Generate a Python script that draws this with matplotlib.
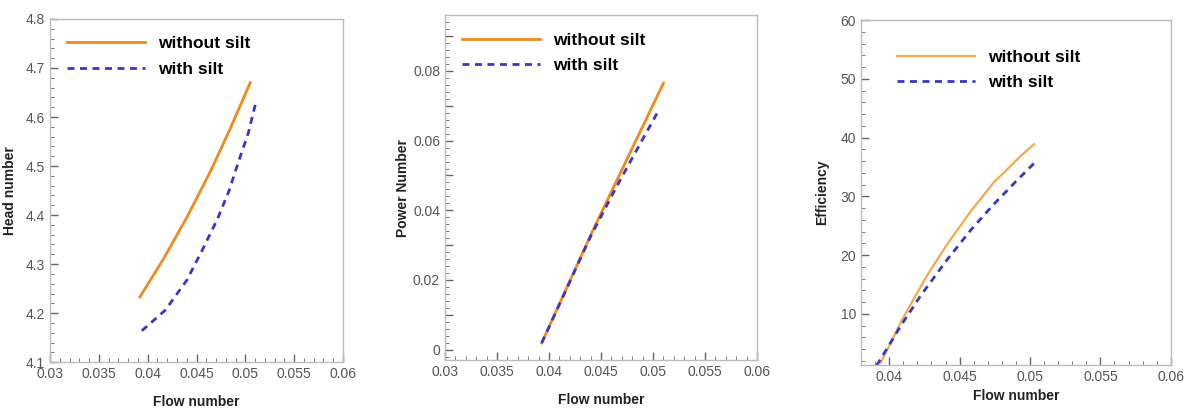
import matplotlib
matplotlib.use('Agg')
import matplotlib.pyplot as plt
from matplotlib.ticker import MultipleLocator, FuncFormatter

plt.rcParams['font.family'] = ['Liberation Sans', 'DejaVu Sans']

# --- data ---
# head number
head_x_dry = [0.0392, 0.0416, 0.0440, 0.0464, 0.0484, 0.0505]
head_y_dry = [4.233, 4.310, 4.395, 4.488, 4.574, 4.670]
head_x_silt = [0.0394, 0.0418, 0.0440, 0.0455, 0.0471, 0.0483, 0.0493, 0.0503, 0.0511]
head_y_silt = [4.164, 4.206, 4.267, 4.325, 4.390, 4.448, 4.509, 4.567, 4.632]

# power number
power_x_dry = [0.0393, 0.0441, 0.0510]
power_y_dry = [0.0019, 0.0335, 0.0765]
power_x_silt = [0.0393, 0.0440, 0.0465, 0.0488, 0.0504]
power_y_silt = [0.0019, 0.0325, 0.0468, 0.0593, 0.0679]

# efficiency
eff_x_dry = [0.0394, 0.0410, 0.0427, 0.0441, 0.0458, 0.0474, 0.0493, 0.0503]
eff_y_dry = [1.7, 9.4, 16.6, 21.8, 27.5, 32.3, 36.8, 38.9]
eff_x_silt = [0.0391, 0.0408, 0.0422, 0.0441, 0.0458, 0.0474, 0.0491, 0.0504]
eff_y_silt = [1.2, 7.9, 13.0, 19.2, 24.3, 28.6, 32.8, 35.9]

orange = '#F08A1C'
orange_light = '#F2A94E'
blue = '#3B36C8'
tick_col = '#555555'
spine_col = '#BBBBBB'

fig = plt.figure(figsize=(11.91, 4.12), dpi=100)

def style(ax):
    for s in ax.spines.values():
        s.set_color(spine_col)
        s.set_linewidth(1.0)
    ax.tick_params(which='both', direction='in', colors='#666666', labelcolor=tick_col,
                   labelsize=10, top=False, right=False)
    ax.tick_params(which='major', length=6, width=1.0)
    ax.tick_params(which='minor', length=3, width=0.6)
    ax.set_xlabel('Flow number', fontsize=10, fontweight='bold', color='#222222', labelpad=10)

def legend(ax, anchor):
    ax.legend(loc='upper left', bbox_to_anchor=anchor, frameon=False,
              handlelength=4.5, handletextpad=0.75, labelspacing=0.6,
              borderaxespad=0.0, prop={'weight': 'bold', 'size': 12.5})

# panel 1
ax1 = fig.add_axes([0.042, 0.121, 0.246, 0.833])
ax1.plot(head_x_dry, head_y_dry, color=orange, lw=2, label='without silt')
ax1.plot(head_x_silt, head_y_silt, color=blue, lw=2, ls=(0, (2.5, 2.0)), label='with silt')
ax1.set_xlim(0.03, 0.06)
ax1.set_ylim(4.1, 4.8)
ax1.xaxis.set_major_locator(MultipleLocator(0.005))
ax1.xaxis.set_minor_locator(MultipleLocator(0.001))
ax1.yaxis.set_major_locator(MultipleLocator(0.1))
ax1.yaxis.set_minor_locator(MultipleLocator(0.02))
ax1.xaxis.set_major_formatter(FuncFormatter(lambda v, p: f'{v:g}'))
ax1.yaxis.set_major_formatter(FuncFormatter(lambda v, p: f'{v:.1f}'))
style(ax1)
ax1.set_ylabel('Head number', fontsize=10, fontweight='bold', color='#222222', labelpad=6)
legend(ax1, (0.035, 0.97))

# panel 2
ax2 = fig.add_axes([0.3736, 0.126, 0.262, 0.837])
ax2.plot(power_x_dry, power_y_dry, color=orange, lw=2, label='without silt')
ax2.plot(power_x_silt, power_y_silt, color=blue, lw=2, ls=(0, (2.5, 2.0)), label='with silt')
ax2.set_xlim(0.03, 0.06)
ax2.set_ylim(-0.003, 0.096)
ax2.xaxis.set_major_locator(MultipleLocator(0.005))
ax2.xaxis.set_minor_locator(MultipleLocator(0.001))
ax2.yaxis.set_major_locator(MultipleLocator(0.01))
ax2.yaxis.set_minor_locator(MultipleLocator(0.002))
ax2.xaxis.set_major_formatter(FuncFormatter(lambda v, p: f'{v:g}'))
ax2.yaxis.set_major_formatter(FuncFormatter(
    lambda v, p: (f'{v:g}' if round(v * 100) % 2 == 0 else '')))
style(ax2)
ax2.set_ylabel('Power Number', fontsize=10, fontweight='bold', color='#222222', labelpad=2)
legend(ax2, (0.032, 0.97))

# panel 3
ax3 = fig.add_axes([0.723, 0.114, 0.260, 0.837])
ax3.plot(eff_x_dry, eff_y_dry, color=orange_light, lw=1.6, label='without silt')
ax3.plot(eff_x_silt, eff_y_silt, color=blue, lw=2, ls=(0, (2.5, 2.0)), label='with silt')
ax3.set_xlim(0.038, 0.06)
ax3.set_ylim(1.3, 60)
ax3.xaxis.set_major_locator(MultipleLocator(0.005))
ax3.xaxis.set_minor_locator(MultipleLocator(0.001))
ax3.yaxis.set_major_locator(MultipleLocator(10))
ax3.yaxis.set_minor_locator(MultipleLocator(2))
ax3.xaxis.set_major_formatter(FuncFormatter(lambda v, p: f'{v:g}'))
style(ax3)
ax3.set_xlabel('Flow number', fontsize=10, fontweight='bold', color='#222222', labelpad=4)
ax3.set_ylabel('Efficiency', fontsize=10, fontweight='bold', color='#222222', labelpad=8)
legend(ax3, (0.094, 0.935))

plt.savefig('out.png', dpi=100)
plt.close()
